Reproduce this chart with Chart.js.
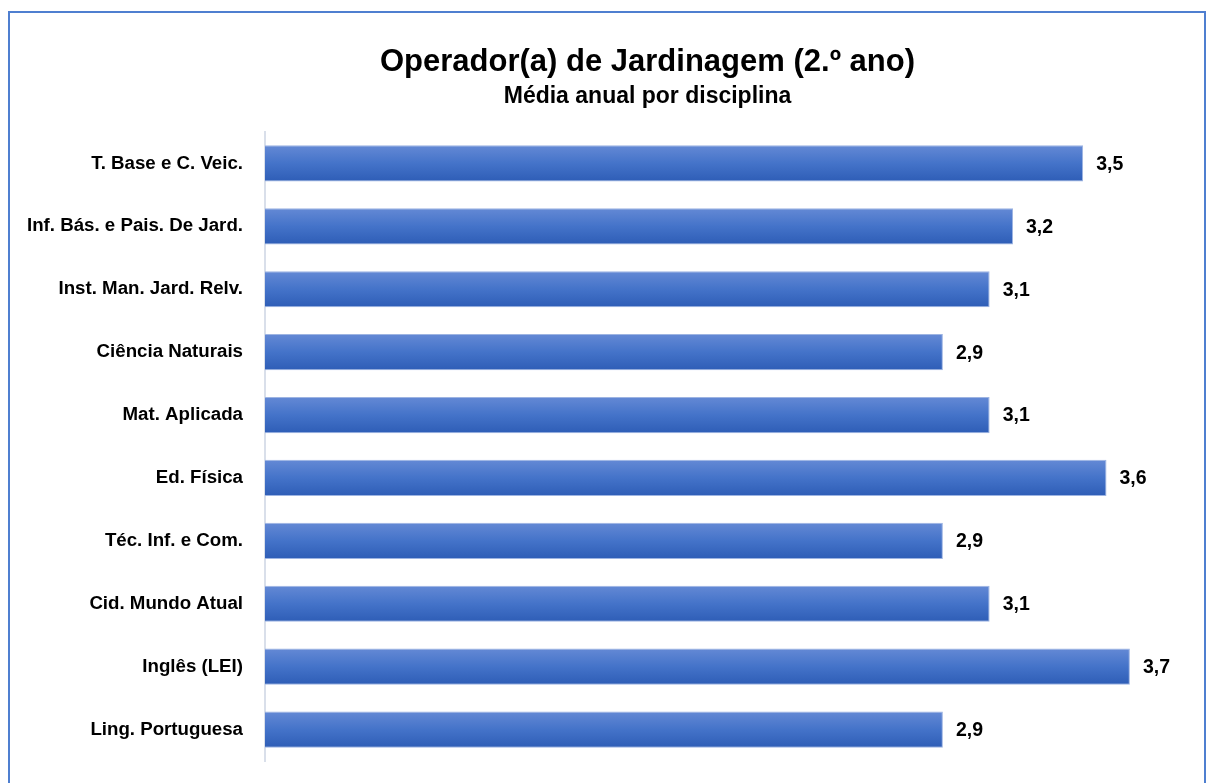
<!DOCTYPE html>
<html>
<head>
<meta charset="utf-8">
<script src="https://cdn.jsdelivr.net/npm/chart.js@4/dist/chart.umd.min.js"></script>
<style>
  html, body { margin: 0; padding: 0; background: #fff; }
  canvas { display: block; }
</style>
</head>
<body>
<canvas id="chart" width="1208" height="783"></canvas>
<script>
// Média anual por disciplina - Operador(a) de Jardinagem (2.º ano)
var disciplinas = [
    'T. Base e C. Veic.',
    'Inf. Bás. e Pais. De Jard.',
    'Inst. Man. Jard. Relv.',
    'Ciência Naturais',
    'Mat. Aplicada',
    'Ed. Física',
    'Téc. Inf. e Com.',
    'Cid. Mundo Atual',
    'Inglês (LEI)',
    'Ling. Portuguesa'
];
var medias = [3.5, 3.2, 3.1, 2.9, 3.1, 3.6, 2.9, 3.1, 3.7, 2.9];

var FONT = "'Liberation Sans', Arial, sans-serif";

function barGradient(ctx) {
    var chart = ctx.chart;
    var y = chart.scales.y;
    if (!y || !chart.chartArea) return '#4472c4';
    var center = y.getPixelForValue(ctx.dataIndex);
    var pitch = Math.abs(y.getPixelForValue(1) - y.getPixelForValue(0));
    var half = pitch * 0.576 / 2;
    var g = chart.ctx.createLinearGradient(0, center - half, 0, center + half);
    g.addColorStop(0, '#6489d5');
    g.addColorStop(0.5, '#4473c9');
    g.addColorStop(1, '#2e5db6');
    return g;
}

// borda e fundo branco
var frame = {
    id: 'frame',
    beforeDraw: function (chart) {
        var c = chart.ctx;
        c.save();
        c.fillStyle = '#fff';
        c.fillRect(0, 0, chart.width, chart.height);
        c.strokeStyle = '#4f7fd0';
        c.lineWidth = 2;
        c.strokeRect(9, 12, 1196, 800);
        c.restore();
    }
};

// títulos centrados sobre a área entre 95 e 1200, como no original
var titleShift = {
    id: 'titleShift',
    afterLayout: function (chart) {
        chart.boxes.forEach(function (box) {
            if (box.options && box.options.text) {
                box.left = 95;
                box.right = 1200;
            }
        });
    }
};

// rótulos de valor ao lado de cada barra
var valueLabels = {
    id: 'valueLabels',
    afterDatasetsDraw: function (chart) {
        var c = chart.ctx;
        var meta = chart.getDatasetMeta(0);
        c.save();
        c.font = 'bold 19.5px ' + FONT;
        c.fillStyle = '#000';
        c.textAlign = 'left';
        c.textBaseline = 'middle';
        meta.data.forEach(function (bar, i) {
            c.fillText(medias[i].toFixed(1).replace('.', ','), bar.x + 13, bar.y + 1);
        });
        c.restore();
    }
};

new Chart(document.getElementById('chart'), {
    type: 'bar',
    data: {
        labels: disciplinas,
        datasets: [{
            data: medias,
            backgroundColor: barGradient,
            borderColor: '#9db4e2',
            borderWidth: 1,
            barPercentage: 0.576,
            categoryPercentage: 1
        }]
    },
    options: {
        indexAxis: 'y',
        responsive: false,
        animation: false,
        layout: { padding: { left: 8, right: 8, top: 0, bottom: 22 } },
        scales: {
            x: {
                display: false,
                min: 0,
                max: 4
            },
            y: {
                afterFit: function (scale) {
                    scale.width = 257;
                    // a padding dos ticks não deve encolher a área do gráfico
                    scale.paddingTop = 0;
                    scale.paddingBottom = 0;
                },
                grid: { display: false, drawTicks: false },
                border: { display: true, color: '#d9dfea', width: 2 },
                ticks: {
                    padding: 22,
                    color: '#000',
                    font: { family: FONT, size: 18.7, weight: 'bold' }
                }
            }
        },
        plugins: {
            legend: { display: false },
            tooltip: { enabled: false },
            title: {
                display: true,
                text: 'Operador(a) de Jardinagem (2.º ano)',
                color: '#000',
                font: { family: FONT, size: 31, weight: 'bold' },
                padding: { top: 43.5, bottom: 2 }
            },
            subtitle: {
                display: true,
                text: 'Média anual por disciplina',
                color: '#000',
                font: { family: FONT, size: 23, weight: 'bold' },
                padding: { top: 0.5, bottom: 21.2 }
            }
        }
    },
    plugins: [frame, titleShift, valueLabels]
});
</script>
</body>
</html>
